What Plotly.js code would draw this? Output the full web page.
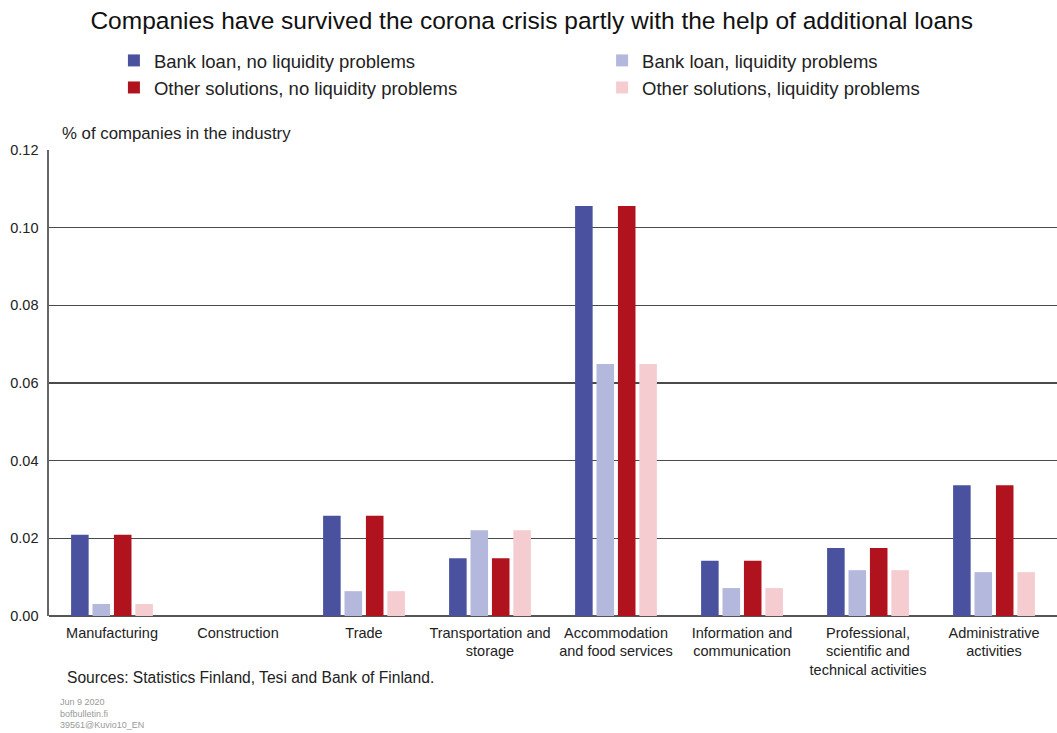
<!DOCTYPE html>
<html>
<head>
<meta charset="utf-8">
<script src="https://cdn.plot.ly/plotly-3.0.1.min.js"></script>
<style>html,body{margin:0;padding:0;background:#fff;}#chart{width:1057px;height:733px;}</style>
</head>
<body>
<div id="chart"></div>
<script>
const categories = ["Manufacturing", "Construction", "Trade", "Transportation and<br>storage", "Accommodation<br>and food services", "Information and<br>communication", "Professional,<br>scientific and<br>technical activities", "Administrative<br>activities"];
const bankNoLiq = [0.0209, 0, 0.0258, 0.0149, 0.1056, 0.0142, 0.0175, 0.0337];
const bankLiq = [0.0031, 0, 0.0064, 0.0221, 0.0649, 0.0072, 0.0118, 0.0113];
const otherNoLiq = [0.0209, 0, 0.0258, 0.0149, 0.1056, 0.0142, 0.0175, 0.0337];
const otherLiq = [0.0031, 0, 0.0064, 0.0221, 0.0649, 0.0072, 0.0118, 0.0113];
const seriesNames = ["Bank loan, no liquidity problems", "Bank loan, liquidity problems", "Other solutions, no liquidity problems", "Other solutions, liquidity problems"];
const colors = ["#4a529f", "#b4b8dc", "#b0121e", "#f5cdd1"];
const values = [bankNoLiq, bankLiq, otherNoLiq, otherLiq];
const legendOf = ["legend", "legend2", "legend", "legend2"];

const traces = values.map((v, i) => ({
  type: "bar", x: categories, y: v, name: seriesNames[i], legend: legendOf[i], legendgroup: "g" + i,
  marker: {color: colors[i], line: {width: 0}}, hoverinfo: "x+y"
}));

const font = "Liberation Sans, Arial, sans-serif";
const legendFont = {family: font, size: 18.5, color: "#222"};
const layout = {
  width: 1057, height: 733,
  margin: {l: 49, r: 0, t: 150, b: 117, autoexpand: false},
  paper_bgcolor: "#fff", plot_bgcolor: "#fff",
  font: {family: font, color: "#222", size: 12},
  title: {text: "Companies have survived the corona crisis partly with the help of additional loans",
    font: {family: font, size: 24.5, color: "#111"}, x: 0.503, xanchor: "center", y: 0.972, yanchor: "middle"},
  barmode: "group", bargap: 0.32, bargroupgap: 0.18,
  showlegend: true,
  legend: {orientation: "v", x: 0.0644, xanchor: "left", y: 1.232, yanchor: "top", traceorder: "normal",
    font: legendFont, tracegroupgap: 6, bgcolor: "rgba(0,0,0,0)"},
  legend2: {orientation: "v", x: 0.5487, xanchor: "left", y: 1.232, yanchor: "top", traceorder: "normal",
    font: legendFont, tracegroupgap: 6, bgcolor: "rgba(0,0,0,0)"},
  xaxis: {type: "category", showline: false, ticks: "", ticklabelstandoff: 6, tickfont: {family: font, size: 14.5, color: "#222"},
    showgrid: false, zeroline: false, fixedrange: true},
  yaxis: {range: [0, 0.12], dtick: 0.02, tickformat: ".2f", showgrid: true, gridcolor: "#4a4a4a", gridwidth: 1.4,
    zeroline: true, zerolinecolor: "#555", zerolinewidth: 1.6, showline: true, linecolor: "#666", linewidth: 1.6,
    ticks: "", ticklabelstandoff: 6, tickfont: {family: font, size: 14.5, color: "#222"}, fixedrange: true},
  annotations: [
    {text: "% of companies in the industry", xref: "paper", yref: "paper", x: 0.011, y: 1, yshift: 17, xanchor: "left", yanchor: "middle",
      showarrow: false, font: {family: font, size: 16.8, color: "#222"}},
    {text: "Sources: Statistics Finland, Tesi and Bank of Finland.", xref: "paper", yref: "paper", x: 0.0155, y: -0.131, xanchor: "left", yanchor: "middle",
      showarrow: false, font: {family: font, size: 15.6, color: "#222"}},
    {text: "Jun 9 2020<br>bofbulletin.fi<br>39561@Kuvio10_EN", xref: "paper", yref: "paper", x: 0.009, y: -0.17, xanchor: "left", yanchor: "top",
      align: "left", showarrow: false, font: {family: font, size: 9, color: "#999"}}
  ]
};
Plotly.newPlot("chart", traces, layout, {displayModeBar: false, staticPlot: true});
</script>
</body>
</html>
